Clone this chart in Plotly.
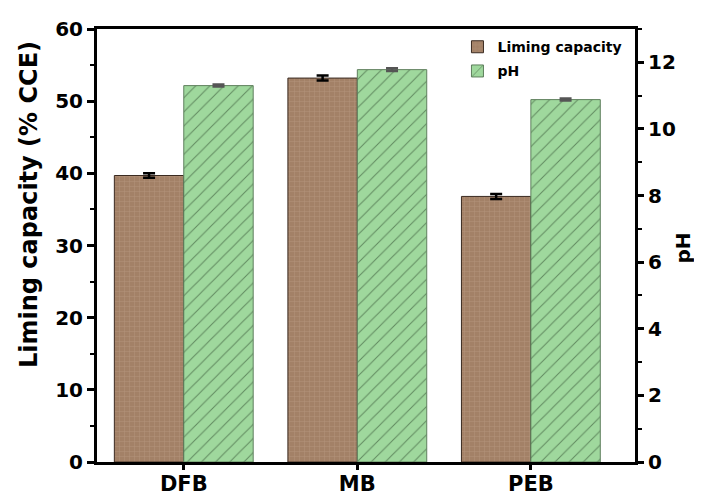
import plotly.graph_objects as go

categories = ["DFB", "MB", "PEB"]
liming = [39.7, 53.2, 36.8]
liming_err = [0.3, 0.35, 0.35]
ph = [11.3, 11.78, 10.88]
ph_err = [0.03, 0.04, 0.03]

FONT = "DejaVu Sans, Liberation Sans, Arial, sans-serif"
W = "bold"

fig = go.Figure()
fig.add_trace(go.Bar(
    x=categories, y=liming, name="Liming capacity", offsetgroup="a", legendgroup="a",
    marker=dict(color="#a38167", line=dict(color="#3a2a20", width=1),
                pattern=dict(shape="+", fgcolor="#c0a48d", size=5, solidity=0.2)),
    error_y=dict(type="data", array=liming_err, color="black", thickness=2.5, width=6),
    yaxis="y",
))
fig.add_trace(go.Bar(
    x=categories, y=ph, name="pH", offsetgroup="b", legendgroup="b",
    marker=dict(color="#9fd89d", line=dict(color="#5f7f5d", width=1),
                pattern=dict(shape="/", fgcolor="#233a22", bgcolor="#9fd89d", size=10, solidity=0.1)),
    error_y=dict(type="data", array=ph_err, color="#555555", thickness=2.5, width=6),
    yaxis="y2",
))

# page body has an 8px margin; compensate so the plot area lands where the reference's is
fig.update_layout(
    width=694, height=489,
    margin=dict(l=89, r=67, t=21, b=35),
    paper_bgcolor="white", plot_bgcolor="white",
    barmode="group", bargap=0.2, bargroupgap=0,
    showlegend=True,
    legend=dict(x=0.67, y=0.995, xanchor="left", yanchor="top",
                font=dict(family=FONT, size=14, color="black", weight=W),
                bgcolor="rgba(0,0,0,0)", tracegroupgap=3),
    xaxis=dict(range=[-0.5, 2.6], showline=True, linecolor="black", linewidth=3,
               mirror=True, ticks="outside", ticklen=5, tickwidth=3, tickcolor="black",
               tickfont=dict(family=FONT, size=21, color="black", weight=W),
               ticklabelstandoff=-4,
               minor=dict(ticks="outside", ticklen=4, tickwidth=3, tickcolor="black", dtick=1, tick0=0.5),
               showgrid=False, automargin=False),
    yaxis=dict(range=[0, 60], dtick=10, showline=True, linecolor="black", linewidth=3,
               ticks="outside", ticklen=7, tickwidth=3, tickcolor="black",
               tickfont=dict(family=FONT, size=20, color="black", weight=W),
               minor=dict(ticks="outside", ticklen=4, tickwidth=2, tickcolor="black", dtick=5),
               showgrid=False, zeroline=False, automargin=False),
    yaxis2=dict(range=[0, 13], dtick=2, overlaying="y", side="right", anchor="x",
                showline=True, linecolor="black", linewidth=3,
                ticks="outside", ticklen=6, tickwidth=3, tickcolor="black",
                tickfont=dict(family=FONT, size=20, color="black", weight=W),
                minor=dict(ticks="outside", ticklen=4, tickwidth=2, tickcolor="black", dtick=1),
                showgrid=False, zeroline=False, automargin=False),
    annotations=[
        dict(text="Liming capacity (% CCE)", xref="paper", yref="paper", x=-0.126, y=0.594,
             textangle=-90, showarrow=False, xanchor="center", yanchor="middle",
             font=dict(family=FONT, size=24, color="black", weight=W)),
        dict(text="pH", xref="paper", yref="paper", x=1.09, y=0.494,
             textangle=-90, showarrow=False, xanchor="center", yanchor="middle",
             font=dict(family=FONT, size=20, color="black", weight=W)),
    ],
)

fig.write_html("out.html")
